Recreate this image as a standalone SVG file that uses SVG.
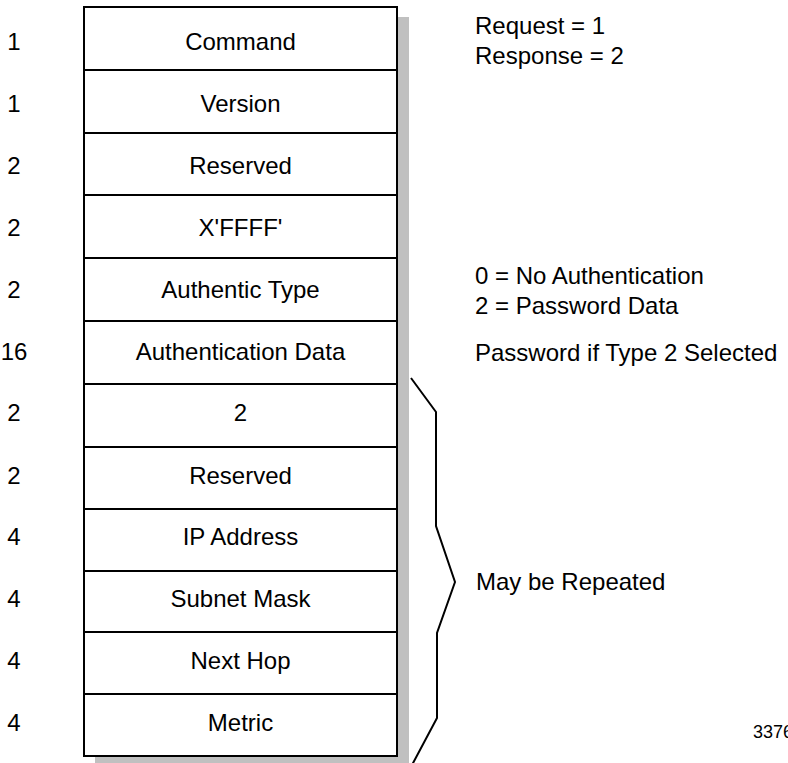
<svg xmlns="http://www.w3.org/2000/svg" width="788" height="763" viewBox="0 0 788 763">
<style>
text{font-family:"Liberation Sans",Arial,sans-serif;font-size:24px;fill:#000}
.c{text-anchor:middle}
.cell{fill:#fff;stroke:#000;stroke-width:2}
.sh{fill:#c0c0c0}
.br{fill:none;stroke:#000;stroke-width:2;stroke-linejoin:miter}
</style>
<rect width="788" height="763" fill="#fff"/>
<rect class="sh" x="95" y="17" width="314" height="750"/>
<g id="row-command"><rect class="cell" x="84" y="7" width="313" height="63"/><text class="c" x="14" y="50">1</text><text class="c" x="240.5" y="50">Command</text></g>
<g id="row-version"><rect class="cell" x="84" y="70" width="313" height="63"/><text class="c" x="14" y="112">1</text><text class="c" x="240.5" y="112">Version</text></g>
<g id="row-reserved1"><rect class="cell" x="84" y="133" width="313" height="62"/><text class="c" x="14" y="174">2</text><text class="c" x="240.5" y="174">Reserved</text></g>
<g id="row-ffff"><rect class="cell" x="84" y="195" width="313" height="63"/><text class="c" x="14" y="236">2</text><text class="c" x="240.5" y="236">X'FFFF'</text></g>
<g id="row-authtype"><rect class="cell" x="84" y="258" width="313" height="63"/><text class="c" x="14" y="298">2</text><text class="c" x="240.5" y="298">Authentic Type</text></g>
<g id="row-authdata"><rect class="cell" x="84" y="321" width="313" height="63"/><text class="c" x="14" y="360">16</text><text class="c" x="240.5" y="360">Authentication Data</text></g>
<g id="row-2"><rect class="cell" x="84" y="384" width="313" height="63"/><text class="c" x="14" y="421">2</text><text class="c" x="240.5" y="421">2</text></g>
<g id="row-reserved2"><rect class="cell" x="84" y="447" width="313" height="62"/><text class="c" x="14" y="484">2</text><text class="c" x="240.5" y="484">Reserved</text></g>
<g id="row-ip"><rect class="cell" x="84" y="509" width="313" height="62"/><text class="c" x="14" y="545">4</text><text class="c" x="240.5" y="545">IP Address</text></g>
<g id="row-subnet"><rect class="cell" x="84" y="571" width="313" height="61"/><text class="c" x="14" y="607">4</text><text class="c" x="240.5" y="607">Subnet Mask</text></g>
<g id="row-nexthop"><rect class="cell" x="84" y="632" width="313" height="62"/><text class="c" x="14" y="669">4</text><text class="c" x="240.5" y="669">Next Hop</text></g>
<g id="row-metric"><rect class="cell" x="84" y="694" width="313" height="62"/><text class="c" x="14" y="731">4</text><text class="c" x="240.5" y="731">Metric</text></g>
<g id="connectors">
<path class="br" d="M411,378 L436,412 L436,526 L455,582 L437,633 L437,718 L412,765"/>
</g>
<g id="notes">
<text x="475" y="34">Request = 1</text>
<text x="475" y="64">Response = 2</text>
<text x="475" y="284">0 = No Authentication</text>
<text x="475" y="314">2 = Password Data</text>
<text x="475" y="361">Password if Type 2 Selected</text>
<text x="476" y="590">May be Repeated</text>
<text x="753" y="738" style="font-size:18px">3376</text>
</g>
</svg>
